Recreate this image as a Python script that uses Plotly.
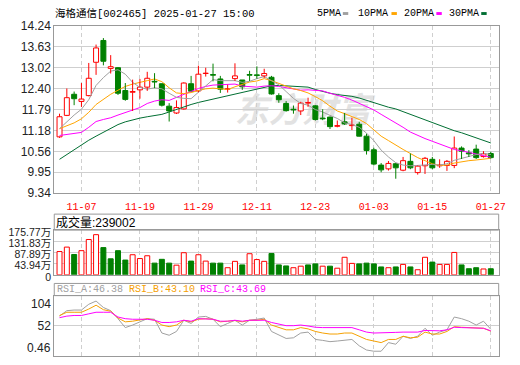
import plotly.graph_objects as go

W, H = 520, 365


def px_x(v):
    return v / W


def px_y(v):
    return 1 - v / H


# ---------------- data ----------------
dates = ["11-04", "11-05", "11-06", "11-07", "11-08", "11-11", "11-12", "11-13", "11-14", "11-15",
         "11-18", "11-19", "11-20", "11-21", "11-22", "11-25", "11-26", "11-27", "11-28", "11-29",
         "12-02", "12-03", "12-04", "12-05", "12-06", "12-09", "12-10", "12-11", "12-12", "12-13",
         "12-16", "12-17", "12-18", "12-19", "12-20", "12-23", "12-24", "12-25", "12-26", "12-27",
         "12-30", "12-31", "01-02", "01-03", "01-06", "01-07", "01-08", "01-09", "01-10", "01-13",
         "01-14", "01-15", "01-16", "01-17", "01-20", "01-21", "01-22", "01-23", "01-24", "01-27"]
tick_dates = ["11-07", "11-19", "11-29", "12-11", "12-23", "01-03", "01-15", "01-27"]

price_open = [10.99, 11.62, 12.24, 12.03, 12.20, 13.18, 13.82, 13.00, 13.02, 12.35,
              12.30, 12.37, 12.45, 12.62, 12.55, 11.89, 11.69, 11.81, 12.55, 12.34,
              12.85, 12.82, 12.69, 12.39, 12.70, 12.66, 12.82, 12.81, 12.78, 12.74,
              12.20, 11.97, 11.80, 11.75, 11.98, 11.90, 11.54, 11.57, 11.30, 11.43,
              11.32, 11.36, 11.01, 10.61, 10.16, 10.05, 10.20, 10.01, 10.27, 9.94,
              10.14, 10.33, 10.14, 10.15, 10.15, 10.66, 10.52, 10.63, 10.41, 10.50]
price_high = [11.67, 12.41, 12.32, 12.57, 13.16, 13.70, 13.89, 13.39, 13.04, 12.57,
              12.67, 12.69, 12.90, 12.86, 12.55, 11.98, 12.06, 12.59, 12.78, 13.08,
              13.02, 13.14, 12.78, 12.52, 13.15, 12.66, 12.93, 13.06, 12.99, 12.78,
              12.27, 12.04, 11.91, 12.02, 12.14, 11.92, 11.80, 11.58, 11.47, 11.69,
              11.55, 11.43, 11.08, 10.67, 10.22, 10.28, 10.22, 10.40, 10.50, 10.15,
              10.40, 10.40, 10.33, 10.31, 11.00, 10.71, 10.60, 10.76, 10.57, 10.55]
price_low = [10.96, 11.60, 11.92, 11.87, 12.18, 12.81, 13.09, 12.85, 12.22, 12.05,
             11.75, 12.11, 12.34, 12.42, 11.88, 11.44, 11.66, 11.79, 12.32, 12.30,
             12.76, 12.62, 12.28, 12.29, 12.63, 12.37, 12.63, 12.70, 12.72, 12.23,
             11.99, 11.73, 11.67, 11.63, 11.87, 11.47, 11.48, 11.22, 11.27, 11.34,
             11.19, 11.00, 10.47, 10.15, 9.95, 10.00, 9.76, 9.98, 10.04, 9.88,
             9.90, 10.04, 10.08, 9.99, 10.07, 10.34, 10.40, 10.34, 10.38, 10.35]
price_close = [11.58, 12.14, 12.11, 12.10, 12.71, 13.60, 13.21, 13.05, 12.27, 12.09,
               12.32, 12.45, 12.71, 12.60, 11.92, 11.75, 11.85, 12.57, 12.33, 12.83,
               12.86, 12.80, 12.39, 12.40, 12.78, 12.46, 12.80, 12.79, 12.85, 12.25,
               12.08, 11.76, 11.78, 11.98, 12.00, 11.50, 11.52, 11.29, 11.32, 11.37,
               11.34, 11.01, 10.59, 10.19, 10.02, 10.21, 10.08, 10.29, 10.08, 10.13,
               10.36, 10.08, 10.16, 10.27, 10.66, 10.57, 10.49, 10.38, 10.49, 10.38]

ma5 = [11.23, 11.44, 11.63, 11.80, 12.08, 12.50, 12.73, 12.92, 12.96, 12.83,
       12.59, 12.44, 12.39, 12.43, 12.40, 12.27, 12.15, 12.12, 12.11, 12.30,
       12.50, 12.67, 12.64, 12.65, 12.64, 12.59, 12.62, 12.70, 12.76, 12.64,
       12.52, 12.32, 12.12, 11.97, 11.92, 11.79, 11.72, 11.62, 11.53, 11.40,
       11.35, 11.27, 11.10, 10.88, 10.60, 10.40, 10.23, 10.16, 10.14, 10.15,
       10.17, 10.18, 10.16, 10.20, 10.30, 10.36, 10.43, 10.47, 10.51, 10.47]
ma10 = [11.23, 11.31, 11.40, 11.52, 11.71, 11.94, 12.10, 12.24, 12.36, 12.47,
        12.54, 12.58, 12.64, 12.69, 12.61, 12.43, 12.28, 12.26, 12.29, 12.35,
        12.40, 12.42, 12.39, 12.38, 12.46, 12.52, 12.60, 12.63, 12.70, 12.64,
        12.56, 12.46, 12.40, 12.35, 12.28, 12.17, 12.05, 11.89, 11.75, 11.67,
        11.58, 11.50, 11.38, 11.20, 11.01, 10.88, 10.74, 10.62, 10.50, 10.38,
        10.29, 10.20, 10.15, 10.16, 10.22, 10.26, 10.29, 10.31, 10.34, 10.36]
ma20 = [11.03, 11.06, 11.08, 11.12, 11.27, 11.44, 11.50, 11.55, 11.63, 11.71,
        11.78, 11.85, 11.97, 12.04, 12.08, 12.06, 12.15, 12.24, 12.33, 12.41,
        12.47, 12.51, 12.52, 12.54, 12.54, 12.48, 12.46, 12.45, 12.48, 12.49,
        12.47, 12.44, 12.39, 12.36, 12.37, 12.35, 12.34, 12.27, 12.22, 12.15,
        12.07, 11.98, 11.89, 11.78, 11.65, 11.53, 11.40, 11.27, 11.13, 11.03,
        10.94, 10.86, 10.78, 10.69, 10.62, 10.58, 10.53, 10.48, 10.44, 10.39]
ma30 = [10.33, 10.47, 10.62, 10.76, 10.89, 11.01, 11.13, 11.25, 11.35, 11.43,
        11.49, 11.54, 11.58, 11.61, 11.65, 11.72, 11.80, 11.88, 11.94, 12.00,
        12.05, 12.10, 12.15, 12.20, 12.26, 12.31, 12.36, 12.41, 12.46, 12.49,
        12.50, 12.49, 12.48, 12.47, 12.45, 12.38, 12.32, 12.27, 12.23, 12.21,
        12.18, 12.13, 12.06, 11.98, 11.92, 11.86, 11.81, 11.73, 11.65, 11.56,
        11.48, 11.39, 11.32, 11.24, 11.17, 11.11, 11.03, 10.95, 10.88, 10.81]

# volume in 万 (10k shares); 1 = red (up) bar, 0 = green (down) bar
volume_wan = [91.6, 109, 80, 95, 139, 158, 107, 63, 95, 58,
              79, 64, 75, 46, 61, 46, 38, 87, 54, 79,
              54, 46, 46, 28, 53, 39, 83, 60, 53, 84,
              39, 35, 28, 34, 39, 43, 34, 34, 26, 69,
              45, 43, 46, 43, 31, 28, 31, 41, 31, 20,
              69, 50, 41, 41, 88, 39, 24, 28, 23, 23.9]
volume_up = [1, 1, 0, 1, 1, 1, 0, 0, 0, 0,
             1, 1, 1, 0, 0, 0, 1, 1, 0, 1,
             1, 0, 0, 1, 1, 0, 1, 1, 1, 0,
             0, 0, 1, 1, 0, 0, 1, 0, 1, 1,
             1, 0, 0, 0, 0, 1, 0, 1, 0, 1,
             1, 0, 1, 1, 1, 0, 0, 0, 1, 0]
last_volume = 239002

rsi_a = [68.9, 78.2, 79.3, 79.3, 89.2, 94.7, 83.7, 78.2, 64.5, 49.2,
         53.6, 59.1, 64.5, 63.5, 39.9, 36.1, 42.6, 61.8, 56.3, 67.3,
         68.4, 63.5, 50.8, 56.3, 61.8, 53.6, 61.8, 63.5, 65.6, 42.6,
         37.2, 30.6, 31.7, 39.9, 41.5, 28.9, 27.3, 25.1, 26.2, 27.3,
         28.9, 18.0, 10.8, 8.7, 8.7, 23.5, 20.7, 34.4, 30.6, 34.4,
         48.1, 36.1, 41.5, 45.4, 67.3, 64.5, 60.2, 53.6, 60.2, 46.38]
rsi_b = [70.0, 75.5, 75.5, 75.5, 81.0, 87.6, 79.9, 77.2, 65.6, 59.1,
         60.2, 61.8, 64.5, 61.8, 53.6, 50.8, 53.6, 61.8, 59.1, 63.5,
         64.5, 63.5, 59.1, 60.2, 61.3, 59.1, 61.8, 61.8, 63.5, 53.6,
         49.2, 45.4, 45.4, 49.2, 47.0, 42.6, 39.9, 38.2, 38.2, 39.9,
         39.9, 34.4, 28.9, 26.2, 23.5, 28.9, 28.9, 34.4, 31.7, 32.8,
         41.5, 38.2, 38.2, 42.6, 50.8, 49.8, 49.2, 48.1, 48.1, 43.10]
rsi_c = [66.2, 68.9, 70.0, 70.0, 72.8, 75.5, 75.5, 75.5, 67.3, 64.5,
         63.5, 63.5, 63.5, 61.8, 58.0, 58.0, 59.1, 61.8, 60.2, 64.5,
         64.5, 63.5, 60.2, 60.2, 61.8, 60.2, 61.8, 61.8, 61.8, 58.0,
         55.2, 52.5, 52.5, 53.6, 51.9, 49.8, 49.2, 49.2, 49.2, 49.2,
         49.2, 45.4, 41.5, 39.9, 39.9, 41.0, 41.0, 41.5, 41.5, 41.5,
         44.3, 43.7, 43.7, 45.4, 49.8, 49.2, 49.2, 48.1, 48.1, 43.69]

price_ticks = [9.34, 9.95, 10.56, 11.18, 11.79, 12.40, 13.02, 13.63, 14.24]
vol_ticks = [0, 43.94, 87.89, 131.83, 175.77]
rsi_ticks = [104, 52, 0.46]

title_text = "海格通信[002465] 2025-01-27 15:00"
ma_names = ["5PMA", "10PMA", "20PMA", "30PMA"]

# ---------------- styles ----------------
RED = "#ff0000"
GREEN = "#008000"
MA_COLORS = ["#a0a0a0", "#ffa500", "#ff00ff", "#006e32"]
RSI_COLORS = ["#a0a0a0", "#f5a000", "#ff00ff"]
GRID = "#cfcfcf"
BORDER = "#999999"
MONO = "Liberation Mono, DejaVu Sans Mono, Noto Sans CJK SC, monospace"
SANS = "Liberation Sans, Arial, Noto Sans CJK SC, sans-serif"
LABEL_C = "#222222"

xs = list(range(len(dates)))
tickvals = [dates.index(d) for d in tick_dates]
XR = [-0.72, len(dates) + 0.08]
BW = 0.68

fig = go.Figure()

# ---------------- moving averages (drawn under candles' wicks) ----------------
for name, series, col in list(zip(ma_names, [ma5, ma10, ma20, ma30], MA_COLORS))[::-1]:
    fig.add_trace(go.Scatter(x=xs, y=series, mode="lines", line=dict(color=col, width=1),
                             xaxis="x", yaxis="y", hoverinfo="skip", showlegend=False))

# ---------------- candles ----------------
up = [i for i in xs if price_close[i] >= price_open[i]]
dn = [i for i in xs if price_close[i] < price_open[i]]


def bodies(idx):
    base = [min(price_open[i], price_close[i]) for i in idx]
    hgt = [max(abs(price_close[i] - price_open[i]), 0.004) for i in idx]
    return base, hgt


for idx, fill, col in [(up, "white", RED), (dn, GREEN, GREEN)]:
    base, hgt = bodies(idx)
    fig.add_trace(go.Bar(x=idx, y=hgt, base=base, width=BW,
                         marker=dict(color=fill, line=dict(color=col, width=1)),
                         xaxis="x", yaxis="y", hoverinfo="skip", showlegend=False))
    wx, wy = [], []
    for i in idx:
        top = max(price_open[i], price_close[i])
        bot = min(price_open[i], price_close[i])
        wx += [i, i, None, i, i, None]
        wy += [top, price_high[i], None, price_low[i], bot, None]
    fig.add_trace(go.Scatter(x=wx, y=wy, mode="lines", line=dict(color=col, width=1),
                             xaxis="x", yaxis="y", hoverinfo="skip", showlegend=False))

# ---------------- volume ----------------
vu = [i for i in xs if volume_up[i] == 1]
vd = [i for i in xs if volume_up[i] == 0]
fig.add_trace(go.Bar(x=vu, y=[volume_wan[i] for i in vu], width=BW,
                     marker=dict(color="white", line=dict(color=RED, width=1)),
                     xaxis="x2", yaxis="y2", hoverinfo="skip", showlegend=False))
fig.add_trace(go.Bar(x=vd, y=[volume_wan[i] for i in vd], width=BW,
                     marker=dict(color=GREEN, line=dict(color=GREEN, width=1)),
                     xaxis="x2", yaxis="y2", hoverinfo="skip", showlegend=False))

# ---------------- RSI ----------------
for series, col in zip([rsi_a, rsi_b, rsi_c], RSI_COLORS):
    fig.add_trace(go.Scatter(x=xs, y=series, mode="lines", line=dict(color=col, width=1),
                             xaxis="x3", yaxis="y3", hoverinfo="skip", showlegend=False))

# ---------------- axes ----------------
xdom = [px_x(55), px_x(505.5)]
common_x = dict(domain=xdom, range=XR, tickmode="array", tickvals=tickvals,
                ticktext=tick_dates, showgrid=True, gridcolor=GRID, griddash="4px,3px",
                gridwidth=1, zeroline=False, showline=True, linecolor=BORDER, linewidth=1,
                mirror=True, ticks="", fixedrange=True)
common_y = dict(showgrid=True, gridcolor=GRID, gridwidth=1, zeroline=False, showline=True,
                linecolor=BORDER, linewidth=1, mirror=True, ticks="", fixedrange=True,
                tickmode="array")

layout = dict(
    width=W, height=H, margin=dict(l=0, r=0, t=0, b=0, pad=0),
    paper_bgcolor="white", plot_bgcolor="white", barmode="overlay", bargap=0,
    showlegend=False, hovermode=False,
    xaxis=dict(common_x, anchor="y", showticklabels=True,
               tickfont=dict(family=MONO, size=10, color=RED), ticklabelstandoff=4),
    yaxis=dict(common_y, domain=[px_y(194), px_y(20)], range=[price_ticks[0], price_ticks[-1]],
               anchor="x", tickvals=price_ticks, ticktext=[f"{v:.2f}" for v in price_ticks],
               tickfont=dict(family=SANS, size=12, color=LABEL_C)),
    xaxis2=dict(common_x, anchor="y2", showticklabels=False),
    yaxis2=dict(common_y, domain=[px_y(279.3), px_y(232.7)], range=[vol_ticks[0], vol_ticks[-1]],
                anchor="x2", tickvals=vol_ticks,
                ticktext=["0" if v == 0 else f"{v:.2f}万" for v in vol_ticks],
                tickfont=dict(family=SANS, size=10.5, color=LABEL_C), ticklabelshift=2),
    xaxis3=dict(common_x, anchor="y3", showticklabels=False),
    yaxis3=dict(common_y, domain=[px_y(364), px_y(301)], range=[rsi_ticks[-1], rsi_ticks[0]],
                anchor="x3", tickvals=[rsi_ticks[1]], ticktext=[f"{rsi_ticks[1]:g}"],
                tickfont=dict(family=SANS, size=12, color=LABEL_C)),
)
fig.update_layout(**layout)

# ---------------- header boxes & decorations ----------------
shapes = []
for top, bottom in [(216, 232.7), (288.3, 301)]:
    shapes.append(dict(type="rect", xref="paper", yref="paper", x0=xdom[0], x1=xdom[1],
                       y0=px_y(bottom), y1=px_y(top), line=dict(color=BORDER, width=1),
                       fillcolor="rgba(0,0,0,0)", layer="above"))

# watermark
shapes.append(dict(type="rect", xref="paper", yref="paper", x0=px_x(222), x1=px_x(392),
                   y0=px_y(128), y1=px_y(92), line=dict(width=0), fillcolor="rgba(0,0,0,0)",
                   layer="between",
                   label=dict(text="东方财富", textposition="middle center",
                              font=dict(family="Noto Sans CJK SC", size=34, color="#e2e2e2",
                                        weight="bold", style="italic"))))

# legend swatches
legend_text_x = [321, 363, 409, 455]
legend_swatch_x = [347.5, 396.8, 442.3, 487.8]
for sx, col in zip(legend_swatch_x, MA_COLORS):
    shapes.append(dict(type="rect", xref="paper", yref="paper", x0=px_x(sx), x1=px_x(sx + 5.5),
                       y0=px_y(8.3), y1=px_y(5.3), line=dict(width=0), fillcolor=col))

annotations = []


def ann(text, x, y, color="#000", size=10, family=MONO, xanchor="left", yanchor="middle",
        yref="paper"):
    annotations.append(dict(text=text, x=px_x(x), y=y if yref != "paper" else px_y(y),
                            xref="paper", yref=yref, showarrow=False, xanchor=xanchor,
                            yanchor=yanchor, font=dict(family=family, size=size, color=color),
                            borderpad=0))


ann(title_text, 55, 7, size=10.5)
for name, tx in zip(ma_names, legend_text_x):
    ann(name, tx - 1, 7, size=10)

ann(f"成交量:{last_volume}", 56, 224.5, size=12, family=SANS)

rsi_labels = [f"RSI_A:{rsi_a[-1]:.2f}", f"RSI_B:{rsi_b[-1]:.2f}", f"RSI_C:{rsi_c[-1]:.2f}"]
for txt, tx, col in zip(rsi_labels, [56.5, 129.5, 202], RSI_COLORS):
    ann(txt, tx, 295, color=col, size=10)

# RSI outer labels kept inside panel
ann(f"{rsi_ticks[0]:g}", 52.5, rsi_ticks[0], color=LABEL_C, size=12, family=SANS,
    xanchor="right", yanchor="top", yref="y3")
ann(f"{rsi_ticks[-1]:g}", 52.5, rsi_ticks[-1], color=LABEL_C, size=12, family=SANS,
    xanchor="right", yanchor="bottom", yref="y3")

fig.update_layout(shapes=shapes, annotations=annotations)

fig.write_html("out.html", config={"displayModeBar": False, "staticPlot": True})
